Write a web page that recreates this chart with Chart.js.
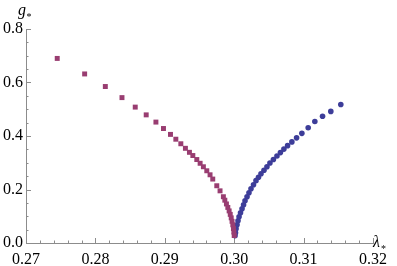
<!DOCTYPE html>
<html>
<head>
<meta charset="utf-8">
<script src="https://cdn.jsdelivr.net/npm/chart.js@4/dist/chart.umd.min.js"></script>
<style>
  html, body { margin: 0; padding: 0; background: #fff; }
  #wrap { width: 397px; height: 266px; }
</style>
</head>
<body>
<div id="wrap"><canvas id="chart" width="397" height="266"></canvas></div>
<script>
// values
const lambdaLeft = [0.2745, 0.27845, 0.28143, 0.28383, 0.28574, 0.28732, 0.28872, 0.28981,
  0.29082, 0.29159, 0.29231, 0.29297, 0.29355, 0.29404, 0.29461, 0.29509, 0.29556, 0.29605,
  0.29652, 0.29691, 0.29749, 0.29796, 0.29844, 0.29865, 0.29888, 0.29908, 0.29927, 0.29943,
  0.29957, 0.29969, 0.29980, 0.29989, 0.29995, 0.30000];
const gLeft = [0.690, 0.632, 0.585, 0.5435, 0.508, 0.479, 0.452, 0.428,
  0.406, 0.388, 0.371, 0.354, 0.339, 0.327, 0.312, 0.298, 0.285, 0.270,
  0.255, 0.239, 0.214, 0.195, 0.173, 0.160, 0.146, 0.133, 0.120, 0.107,
  0.094, 0.081, 0.068, 0.054, 0.041, 0.028];

const lambdaRight = [0.30012, 0.30019, 0.30027, 0.30041, 0.30055, 0.30070, 0.30091, 0.30113,
  0.30135, 0.30156, 0.30185, 0.30213, 0.30242, 0.30278, 0.30314, 0.30350, 0.30386, 0.30429,
  0.30472, 0.30515, 0.30565, 0.30616, 0.30666, 0.30716, 0.30769, 0.30831, 0.30899, 0.30975,
  0.31066, 0.31162, 0.31273, 0.31392, 0.31536];
const gRight = [0.027, 0.038, 0.053, 0.068, 0.083, 0.098, 0.113, 0.128,
  0.143, 0.158, 0.173, 0.188, 0.203, 0.218, 0.233, 0.246, 0.259, 0.272,
  0.285, 0.299, 0.312, 0.325, 0.338, 0.351, 0.364, 0.378, 0.393, 0.410,
  0.431, 0.454, 0.474, 0.492, 0.518];

const xTicks = [0.27, 0.28, 0.29, 0.30, 0.31, 0.32];
const yTicks = [0.0, 0.2, 0.4, 0.6, 0.8];

const axisGray = '#8c8c8c';
const serif = '"Liberation Serif", "DejaVu Serif", serif';

const pts = (xs, ys) => xs.map((x, i) => ({ x: x, y: ys[i] }));

// inward major/minor ticks, Mathematica style
const tickMarks = {
  id: 'tickMarks',
  beforeDatasetsDraw(chart) {
    const { ctx, scales: { x, y } } = chart;
    ctx.save();
    ctx.strokeStyle = axisGray;
    ctx.lineWidth = 1;
    ctx.beginPath();
    for (let i = 0; i <= 25; i++) {
      const v = 0.27 + i * 0.002;
      const px = Math.round(x.getPixelForValue(v)) + 0.5;
      const len = i % 5 === 0 ? 5 : 2.5;
      ctx.moveTo(px, y.bottom);
      ctx.lineTo(px, y.bottom - len);
    }
    for (let i = 0; i <= 16; i++) {
      const v = i * 0.05;
      const py = Math.round(y.getPixelForValue(v)) + 0.5;
      const len = i % 4 === 0 ? 5 : 2.5;
      ctx.moveTo(x.left, py);
      ctx.lineTo(x.left + len, py);
    }
    ctx.stroke();

    // axis labels g* and lambda*
    ctx.fillStyle = '#000';
    ctx.textBaseline = 'alphabetic';
    ctx.font = 'italic 16px ' + serif;
    ctx.fillText('g', 18, 15);
    ctx.font = '10px ' + serif;
    ctx.fillText('*', 26.5, 20);
    ctx.font = 'italic 16px ' + serif;
    ctx.fillText('λ', 373, 247);
    ctx.font = '10px ' + serif;
    ctx.fillText('*', 381, 252);
    ctx.restore();
  }
};

new Chart(document.getElementById('chart'), {
  type: 'scatter',
  data: {
    datasets: [
      {
        label: 'left',
        data: pts(lambdaLeft, gLeft),
        pointStyle: 'rect',
        pointRadius: 3.5,
        backgroundColor: '#993d71',
        borderWidth: 0
      },
      {
        label: 'right',
        data: pts(lambdaRight, gRight),
        pointStyle: 'circle',
        pointRadius: 2.8,
        backgroundColor: '#3d3d99',
        borderWidth: 0
      }
    ]
  },
  options: {
    responsive: false,
    animation: false,
    devicePixelRatio: 1,
    clip: false,
    layout: { padding: { top: 29, right: 24, left: 0, bottom: 0 } },
    plugins: { legend: { display: false }, tooltip: { enabled: false } },
    scales: {
      x: {
        type: 'linear',
        min: 0.27,
        max: 0.32,
        afterBuildTicks: (s) => { s.ticks = xTicks.map(v => ({ value: v })); },
        afterFit: (s) => { s.height = 23; },
        grid: { display: false, drawTicks: false, tickLength: 0 },
        border: { display: true, color: axisGray, width: 1 },
        ticks: {
          padding: 7,
          color: '#000',
          font: { family: serif, size: 16 },
          callback: (v) => v.toFixed(2)
        }
      },
      y: {
        min: 0,
        max: 0.8,
        afterBuildTicks: (s) => { s.ticks = yTicks.map(v => ({ value: v })); },
        afterFit: (s) => { s.width = 26; },
        grid: { display: false, drawTicks: false, tickLength: 0 },
        border: { display: true, color: axisGray, width: 1 },
        ticks: {
          padding: 3,
          color: '#000',
          font: { family: serif, size: 16 },
          callback: (v) => v.toFixed(1)
        }
      }
    }
  },
  plugins: [tickMarks]
});
</script>
</body>
</html>
